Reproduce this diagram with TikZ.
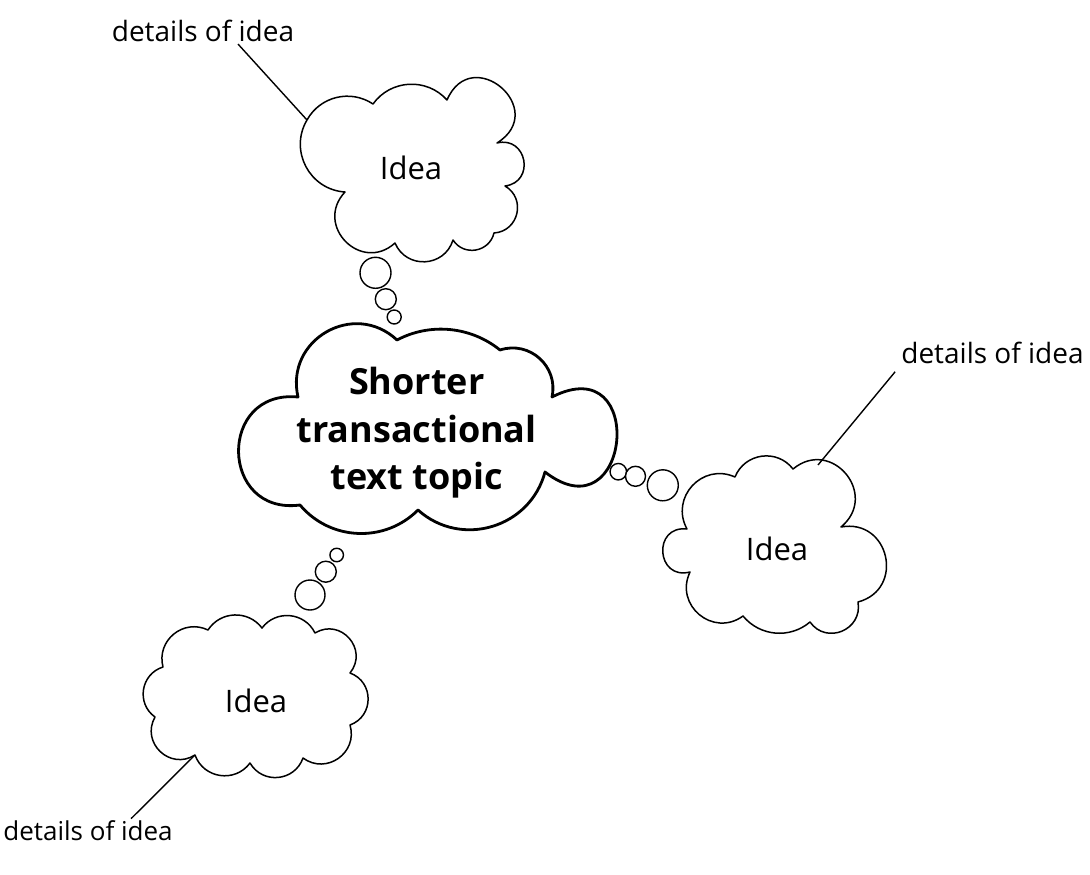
\documentclass[tikz,border=0pt]{standalone}
\usepackage{fontspec}
\setmainfont{Open Sans}
\tikzset{
  lobe/.code={%
    \pgfmathsetmacro\lobeang{2*atan(2*#1)}%
    \pgfmathsetmacro\lobeloose{(4/3)*tan(\lobeang/2)/(2*sin(\lobeang))/0.3915}%
    \edef\lobenext{\noexpand\tikzset{bend left=\lobeang,looseness=\lobeloose}}%
    \lobenext},
  ideacloud/.style={draw=black,fill=white,line width=1.5pt,line join=round},
  maincloud/.style={draw=black,fill=white,line width=2.8pt,line join=round},
  bubble/.style={circle,draw=black,fill=white,line width=1.4pt,inner sep=0pt,minimum size=#1},
  detailtext/.style={font=\fontsize{28}{34}\selectfont,inner sep=2pt},
  ideatext/.style={font=\fontsize{31}{36}\selectfont,inner sep=2pt},
  maintext/.style={font=\fontsize{36}{47.5}\selectfont\bfseries,align=center,inner sep=0pt},
  leader/.style={draw=black,line width=1.4pt},
}
\begin{document}
\begin{tikzpicture}[x=1pt,y=-1pt]
\useasboundingbox (0,0) rectangle (1090,875);

% main cloud
\draw[maincloud] (397,340) coordinate (m1)
  to[lobe=0.15] (500,350) coordinate (m2)
  to[lobe=0.29] (552,397) coordinate (m3)
  to[lobe=0.91] (545,472) coordinate (m4)
  to[lobe=0.28] (418,510) coordinate (m5)
  to[lobe=0.22] (300,505) coordinate (m6)
  to[lobe=0.56] (298,397) coordinate (m7)
  to[lobe=0.37] (397,340) -- cycle;
\node[maintext] (main) at (416.7,433) {Shorter\\transactional\\text topic};

% top idea cloud
\draw[ideacloud] (307,120) coordinate (ta)
  to[lobe=0.22] (373,104)
  to[lobe=0.24] (447,100)
  to[lobe=0.68] (497,143)
  to[lobe=0.53] (505,186)
  to[lobe=0.37] (494,233)
  to[lobe=0.33] (453,240)
  to[lobe=0.35] (395,243)
  to[lobe=0.48] (345,192)
  to[lobe=0.28] (307,120) -- cycle;
\node[ideatext] (ideatop) at (411,168) {Idea};

% right idea cloud
\draw[ideacloud] (735,477) coordinate (r1)
  to[lobe=0.29] (793,469)
  to[lobe=0.5] (841,527)
  to[lobe=0.48] (858,602)
  to[lobe=0.4] (810,622)
  to[lobe=0.21] (743,616)
  to[lobe=0.39] (690,572)
  to[lobe=0.6] (687,529)
  to[lobe=0.36] (735,477) -- cycle;
\coordinate (rattach) at (818,465);
\node[ideatext] (idearight) at (777,548.5) {Idea};

% bottom idea cloud
\draw[ideacloud] (208,630) coordinate (q1)
  to[lobe=0.26] (262,628)
  to[lobe=0.28] (315,633)
  to[lobe=0.42] (350,673)
  to[lobe=0.35] (350,725)
  to[lobe=0.36] (303,758)
  to[lobe=0.32] (250,763)
  to[lobe=0.3] (195,755) coordinate (q8)
  to[lobe=0.39] (155,717)
  to[lobe=0.31] (163,667)
  to[lobe=0.32] (208,630) -- cycle;
\node[ideatext] (ideabottom) at (256,701) {Idea};

% thought bubbles
\node[bubble=31pt] (tb1) at (375.5,272.8) {};
\node[bubble=21pt] (tb2) at (385.8,299.2) {};
\node[bubble=14pt] (tb3) at (394.2,317) {};
\node[bubble=16.5pt] (rb1) at (618.3,471.7) {};
\node[bubble=20pt] (rb2) at (635.5,476.3) {};
\node[bubble=31pt] (rb3) at (662.8,485.3) {};
\node[bubble=13.5pt] (bb1) at (336.7,555) {};
\node[bubble=21pt] (bb2) at (325.8,571.7) {};
\node[bubble=30pt] (bb3) at (310,595) {};

% detail labels
\node[detailtext] (dtop) at (203,31) {details of idea};
\node[detailtext] (dright) at (992.5,352.7) {details of idea};
\node[detailtext,font=\fontsize{26}{32}\selectfont] (dbottom) at (88,831) {details of idea};

\draw[leader] ([xshift=35pt]dtop.south) -- (ta);
\draw[leader] ([xshift=-4pt,yshift=-6pt]dright.south west) -- (rattach);
\draw[leader] ([xshift=43pt]dbottom.north) -- (q8);
\end{tikzpicture}
\end{document}
